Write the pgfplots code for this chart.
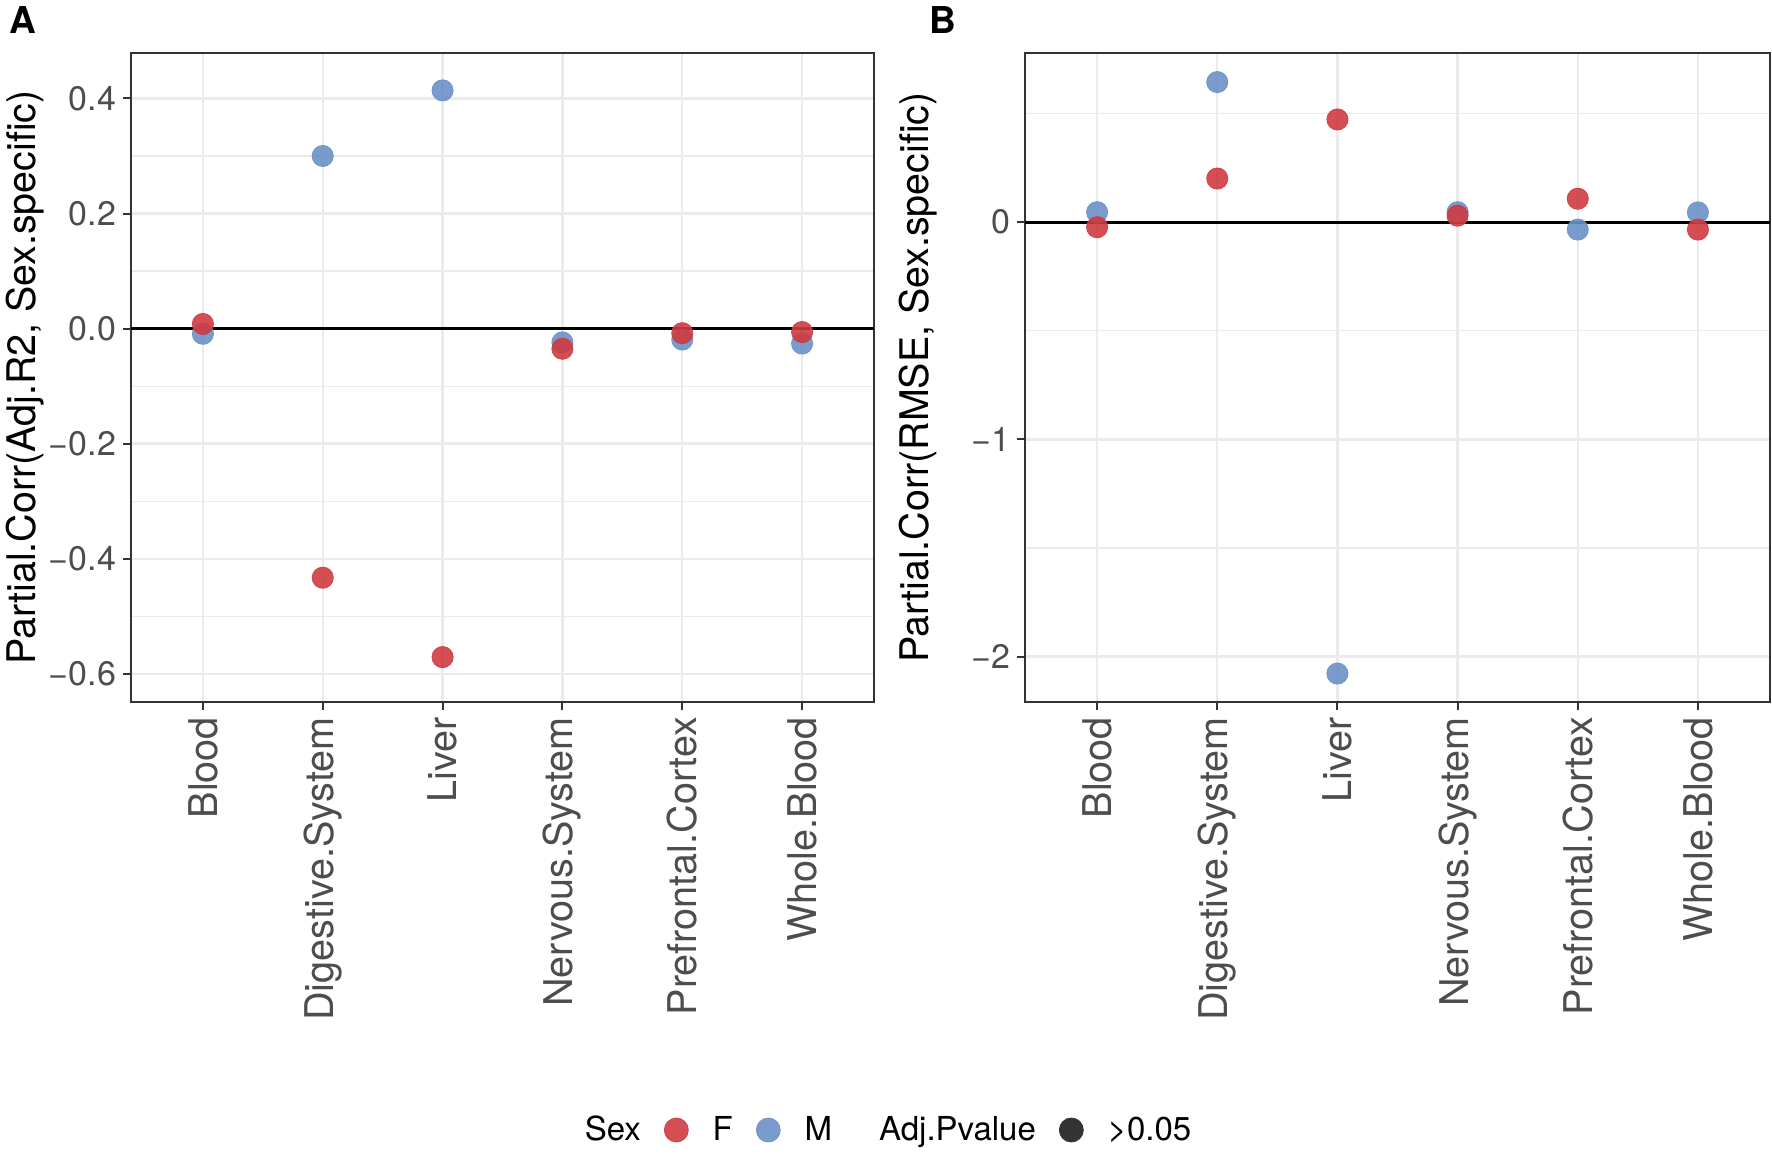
\documentclass[border=0pt]{standalone}
\usepackage{fontspec}
\setmainfont{TeX Gyre Heros}
\usepackage{pgfplots}
\pgfplotsset{compat=1.18}

\definecolor{femred}{HTML}{CF3B40}
\definecolor{maleblue}{HTML}{6B91C7}
\definecolor{pdark}{HTML}{333333}
\definecolor{gridgrey}{HTML}{EBEBEB}
\definecolor{ticktext}{HTML}{4D4D4D}

% shared look of both panels (1 px of the reference = 0.5pt)
\pgfplotsset{
  panel/.style={
    scale only axis, width=371.5pt, height=324.5pt,
    xmin=0.4, xmax=6.6, xtick={1,...,6},
    xticklabels={Blood,Digestive.System,Liver,Nervous.System,Prefrontal.Cortex,Whole.Blood},
    xticklabel style={rotate=90, anchor=east, font=\fontsize{19.8}{19.8}\selectfont, text=ticktext},
    yticklabel style={font=\fontsize{17}{17}\selectfont, text=ticktext},
    grid=both,
    major grid style={gridgrey, line width=1.2pt},
    minor grid style={gridgrey, line width=0.6pt},
    tick align=outside, tick pos=left,
    major tick length=4pt, minor tick length=0pt,
    tick style={pdark, line width=1pt},
    axis line style={pdark, line width=1pt},
    ylabel style={font=\fontsize{19.7}{19.7}\selectfont, at={(rel axis cs:-0.143,0.5)}, anchor=center},
  },
  pts/.style={only marks, mark=*, mark size=5.3pt, opacity=0.9, forget plot},
  legcirc/.style={legend image code/.code={\path[draw=none, fill=none] (0pt,-6pt) rectangle (12pt,6pt); \fill[##1] (6pt,0pt) circle (6pt);}},
  legnone/.style={legend image code/.code={}},
}

\begin{document}
\begin{tikzpicture}
\path[use as bounding box] (0,0) rectangle (886pt,577.5pt);

\node[anchor=base west, font=\fontsize{18.5}{18.5}\bfseries] at (1pt,560.5pt) {A};
\node[anchor=base west, font=\fontsize{18.5}{18.5}\bfseries] at (461pt,560.5pt) {B};

% Panel A
\begin{axis}[panel, at={(65.5pt,226.5pt)}, anchor=south west,
    ymin=-0.649, ymax=0.479,
    ytick={-0.6,-0.4,-0.2,0,0.2,0.4},
    yticklabels={−0.6,−0.4,−0.2,0.0,0.2,0.4},
    minor ytick={-0.5,-0.3,-0.1,0.1,0.3},
    ylabel={Partial.Corr(Adj.R2, Sex.specific)},
    legend columns=-1,
    legend style={draw=none, fill=none, at={(rel axis cs:1.0055,-0.6595)}, anchor=center,
      font=\fontsize{16.5}{16.5}\selectfont,
      /tikz/every odd column/.append style={column sep=10pt},
      /tikz/every even column/.append style={column sep=9.5pt}},
  ]
\addplot[black, line width=1.5pt, forget plot] coordinates {(0.4,0) (6.6,0)};
\addplot[pts, color=maleblue] coordinates {
  (1,-0.009) (2,0.300) (3,0.414) (4,-0.024) (5,-0.019) (6,-0.026)};
\addplot[pts, color=femred] coordinates {
  (1,0.008) (2,-0.433) (3,-0.571) (4,-0.035) (5,-0.008) (6,-0.006)};

\addlegendimage{legnone}
\addlegendentry{Sex}
\addlegendimage{legcirc, color=femred, opacity=0.9}
\addlegendentry{F}
\addlegendimage{legcirc, color=maleblue, opacity=0.9}
\addlegendentry{M\hspace{10.5pt}}
\addlegendimage{legnone}
\addlegendentry{Adj.Pvalue}
\addlegendimage{legcirc, color=pdark}
\addlegendentry{>0.05}
\end{axis}

% Panel B
\begin{axis}[panel, at={(512.5pt,226.5pt)}, anchor=south west, width=372.5pt,
    ymin=-2.209, ymax=0.779,
    ytick={-2,-1,0},
    yticklabels={−2,−1,0},
    minor ytick={-1.5,-0.5,0.5},
    ylabel={Partial.Corr(RMSE, Sex.specific)},
  ]
\addplot[black, line width=1.5pt, forget plot] coordinates {(0.4,0) (6.6,0)};
\addplot[pts, color=maleblue] coordinates {
  (1,0.046) (2,0.645) (3,-2.078) (4,0.046) (5,-0.034) (6,0.045)};
\addplot[pts, color=femred] coordinates {
  (1,-0.023) (2,0.201) (3,0.473) (4,0.030) (5,0.108) (6,-0.034)};
\end{axis}
\end{tikzpicture}
\end{document}
